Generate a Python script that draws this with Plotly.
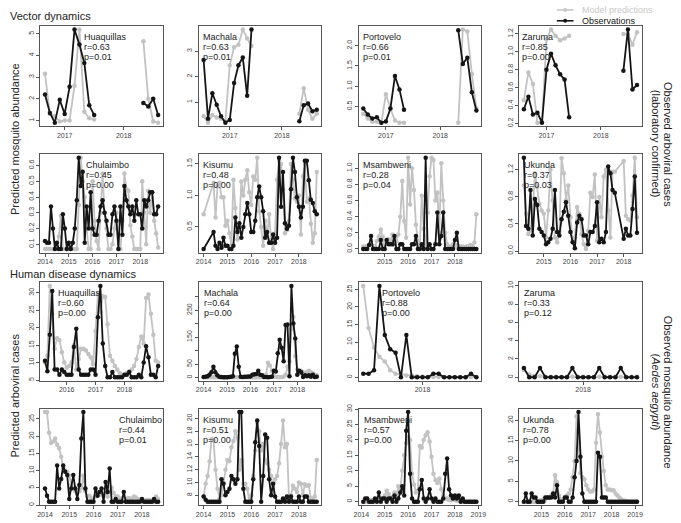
import plotly.graph_objects as go

FONT = "Liberation Sans, Arial, Helvetica, sans-serif"
GREY = "#c2c2c2"
BLACK = "#151515"
W, H = 681, 523
N = None

# ---------------- data ----------------
# Row 1: vector dynamics, Ecuador (monthly, start year/month)
huaq_vec_start = (2016, 9)
huaq_vec_obs = [2.2, 1.35, 0.9, 1.95, 1.3, 2.55, 5.2, 4.5, 3.65, 1.7, 1.25] + [N] * 9 + [1.8, 1.65, 2.0, 1.25]
huaq_vec_pred = [3.15, 1.3, 1.2, 0.95, 1.0, 1.0, 2.6, 5.2, 1.4, 1.1, 1.05] + [N] * 9 + [4.65, 2.0, 0.95, 0.9]

mach_vec_start = (2016, 7)
mach_vec_obs = [2.65, 0.35, 1.35, 0.9, 0.45, 0.2, 0.3, 1.75, 2.45, 2.75, 1.25, 3.85] + [N] * 10 + [0.25, 0.88, 0.95, 0.65, 0.7]
mach_vec_pred = [0.45, 0.2, 0.5, 0.4, 0.35, 0.25, 2.45, 3.15, 3.25, 3.85, 3.5, 3.2] + [N] * 10 + [0.55, 1.55, 0.7, 0.35, 0.55]

port_vec_start = (2016, 8)
port_vec_obs = [0.45, 0.3, 0.2, 0.23, 0.1, 0.13, 0.45, 1.25, 0.92, 0.42] + [N] * 11 + [2.38, 1.55, 1.7, 0.85, 0.4]
port_vec_pred = [0.32, 0.2, 0.12, 0.12, 0.1, 0.8, 0.45, 0.15, 0.1, 0.1] + [N] * 11 + [0.1, 2.4, 2.35, 1.3, 0.45]

zar_vec_start = (2016, 8)
zar_vec_obs = [0.36, 0.5, 0.3, 0.32, 0.21, 0.8, 0.98, 0.85, 0.75, 0.69, 0.27] + [N] * 11 + [0.79, 1.25, 0.58, 0.63]
zar_vec_pred = [0.46, 0.77, 0.64, 0.21, 0.22, 1.14, 1.25, 1.18, 1.13, 1.15, 1.18] + [N] * 11 + [1.2, 1.2, 1.08, 1.22]

# Row 2: vector dynamics, Kenya
chul_vec_start = (2014, 1)
chul_vec_obs = [0.12, 0.11, 0.11, 0.34, 0.2, 0.07, 0.11, 0.07, 0.07, 0.29, 0.2, 0.07,
                0.11, 0.07, 0.11, 0.2, 0.38, 0.65, 0.47, 0.56, 0.11, 0.34, 0.2, 0.43,
                0.2, 0.16, 0.16, 0.25, 0.34, 0.38, 0.3, 0.25, 0.16, 0.16, 0.29, 0.34,
                0.25, 0.07, 0.34, 0.16, 0.47, 0.38, 0.34, 0.29, 0.34, 0.25, 0.38, 0.29,
                0.29, 0.2, 0.38, 0.34, 0.38, 0.43, 0.43, 0.29, 0.29, 0.34]
chul_vec_pred = [0.07, 0.07, 0.07, 0.07, 0.07, 0.07, 0.07, 0.15, 0.28, 0.07, 0.07, 0.07,
                 0.07, 0.07, 0.07, 0.07, 0.07, 0.35, 0.65, 0.5, 0.4, 0.2, 0.07, 0.07,
                 0.5, 0.25, 0.12, 0.07, 0.3, 0.55, 0.3, 0.2, 0.07, 0.07, 0.1, 0.2,
                 0.3, 0.07, 0.07, 0.25, 0.55, 0.45, 0.44, 0.22, 0.15, 0.07, 0.07, 0.07,
                 0.07, 0.5, 0.3, 0.1, 0.44, 0.3, 0.43, 0.25, 0.17, 0.08]

kis_vec_start = (2014, 1)
kis_vec_obs = [0.15, N, N, N, N, 0.42, 0.2, 0.15, 0.25, 0.17, 0.33, 0.2,
               0.2, 0.15, 0.15, 0.2, 0.65, 0.42, 0.56, 0.33, 0.5, 0.7, 0.88, 0.7,
               0.42, 0.42, 0.6, 0.97, 1.14, 0.97, 0.75, 0.33, 0.42, 0.25, 0.25, 0.38,
               0.25, 0.33, 1.6, 0.82, 1.37, 0.56, 0.47, 0.52, 1.1, 1.6, 1.37, 0.97,
               0.82, 0.65, 0.82, 1.55, 1.55, 1.24, 0.93, 0.88, 0.75, 0.7]
kis_vec_pred = [0.7, N, N, N, N, 1.2, 0.65, 1.15, 1.2, 0.97, 0.97, 0.52,
                0.6, 0.4, 0.2, 1.25, 0.8, 0.3, 0.5, 1.22, 1.0, 1.25, 1.4, 1.05,
                0.85, 1.3, 1.25, 1.6, 0.75, 0.5, 0.2, 0.6, 0.35, 0.7, 0.3, 0.15,
                0.4, 1.25, 1.55, 1.5, 1.1, 0.4, 0.45, 0.6, 1.5, 1.25, 0.95, 0.9,
                1.0, 0.38, 1.3, 1.5, 0.9, 0.95, 0.55, 0.25, 0.4, 1.37]

msam_vec_start = (2014, 2)
msam_vec_obs = [0.0, 0.0, 0.0, 0.05, 0.16, 0.0, 0.0, 0.0, 0.0, 0.11, 0.0,
                0.0, 0.11, 0.06, 0.06, 0.06, 0.16, 0.0, 0.0, 0.06, 0.06, 0.0, 0.0,
                0.0, 0.0, 0.06, 0.06, 0.16, 0.0, 0.0, 0.06, 0.0, 1.13, 0.0, 0.06,
                0.0, 0.0, 0.06, 0.45, 0.06, 0.16, 0.45, 0.0, 0.0, 0.0, 0.0, 0.0,
                0.11, 0.2, 0.0, 0.0, 0.0, 0.0, 0.0, 0.0, 0.0, 0.0, 0.0, 0.0]
msam_vec_pred = [0.03, 0.03, 0.03, 0.05, 0.1, 0.03, 0.03, 0.1, 0.15, 0.24, 0.15,
                 0.05, 0.1, 0.12, 0.1, 0.18, 0.05, 0.1, 0.18, 0.4, 0.84, 0.35, 0.14,
                 1.13, 0.55, 1.0, 0.73, 0.3, 0.1, 0.03, 0.66, 0.25, 0.03, 0.45, 0.9,
                 1.13, 1.1, 0.6, 0.7, 0.2, 1.06, 0.6, 0.2, 0.06, 0.03, 0.03, 0.06,
                 0.03, 0.05, 0.03, 0.03, 0.03, 0.02, 0.03, 0.03, 0.05, 0.03, 0.08, 0.43]

ukun_vec_start = (2014, 4)
ukun_vec_obs = [1.38, 0.37, 0.33, 0.9, 0.23, 0.77, 0.68, 0.33, 0.28,
                0.23, 0.1, 0.13, 0.18, 0.33, 0.9, 0.28, 0.23, 0.47, 0.58, 0.72, 0.52,
                0.28, 0.13, 0.04, 0.42, 0.52, 0.47, 0.23, 0.23, 0.1, 0.28, 0.28, 0.37,
                0.72, 0.13, 0.18, 0.13, 0.28, 1.25, 1.15, 0.9, 0.86, N, N, N,
                0.18, 0.33, 0.23, 0.23, 0.62, 1.1, 0.27]
ukun_vec_pred = [0.97, 0.55, 0.25, 0.3, 0.6, 1.15, 0.95, 0.7, 0.6,
                 0.55, 0.2, 0.6, 1.2, 0.75, 0.2, 0.13, 0.28, 1.37, 1.15, 0.75, 0.97,
                 0.5, 0.15, 0.2, 0.65, 0.55, 0.25, 0.1, 0.03, 0.3, 0.86, 0.8, 1.13,
                 0.15, 0.8, 0.5, 1.1, 1.2, 0.6, 0.2, 1.17, 1.17, N, N, N,
                 1.33, 0.52, 0.47, 0.45, 0.82, 1.38, 0.5]

# Row 3: human disease, Ecuador
huaq_dis_start = (2015, 4)
huaq_dis_obs = [10.5, 7.5, 18, 30.5, 8, 8, 6.5, 8, 7.3,
                6.5, 6.5, 6.5, 14.5, 19.7, 8, 6.5, 6.5, 6.5, 6.5, 8, 8,
                6.5, 23, 32, 15.5, 9, 5.8, 5.8, 7.3, 5.8, 5.8, 5.8, 5.8,
                6.5, 6.5, 7.3, 5.8, 5.8, 5.8, 6.5, 5.8, 10, 14.7, 11.5, 6.5,
                6.5, 5.8, 9]
huaq_dis_pred = [10, 12, 32, 24, 14, 17, 16.5, 13, 10,
                 8.5, 9, 10, 15, 8, 11, 14, 14, 13.5, 12.5, 11.5, 9.5,
                 19, 29.5, 24.5, 29, 28.8, 21, 12, 10.5, 9, 8, 7, 6.5,
                 6.5, 7, 7.5, 8, 9, 11, 14.5, 17.5, 15.5, 28.5, 29.5, 24,
                 18, 10.5, 10]

mach_dis_start = (2014, 1)
mach_dis_obs = [2, 3, 5, 10, 20, 40, 20, 8, 3, 2, 1, 1,
                1, 2, 3, 5, 88, 115, 40, 3, 2, 3, 3, 4,
                4, 10, 12, 13, 25, 10, 8, 2, 2, 1, 2, 3,
                25, 22, 90, 140, 110, 60, 195, 197, 5, 340, 200, 145,
                10, 25, 20, 2, 8, 5, 8, 3, 10, 2, 3]
mach_dis_pred = [1, 1, 1, 1, 1, 1, 1, 1, 1, 1, 1, 1,
                 1, 1, 1, 1, 1, 1, 1, 1, 1, 1, 1, 1,
                 1, 1, 1, 1, 1, 1, 1, 2, 10, 55, 45, 25,
                 5, 2, 2, 2, 2, 3, 10, 40, 60, 180, 225, 80,
                 30, 15, 25, 20, 10, 20, 25, 20, 15, 10, 8]

port_dis_start = (2017, 2)
port_dis_obs = [1, 1, 2, 26, 12, 8, 7, 0, 12, 0, 0, 0, 0, 1, 1, 0, 0, 0, 0, 0, 1, 0]
port_dis_pred = [26, 14, 8.5, 5.8, 4.5, 2, 1, 0.8, 0.5, 0.5, 0.3, 0.2, 0.1, 0.1, 0.1, 0.1, 0.1, 0.1, 0.1, 0.1, 0.1, 0.1]

zar_dis_start = (2017, 2)
zar_dis_obs = [1, 0, 0, 1, 0, 0, 0, 0, 0, 1, 0, 0, 0, 0, 1, 0, 0, 0, 1, 0, 0, 0]
zar_dis_pred = [0.8, 0.3, 0.15, 0.1, 0.05, 0.05, 0.05, 0.05, 0.05, 0.05, 0.05, 0.05, 0.05, 0.05, 0.05, 0.05, 0.05, 0.05, 0.05, 0.05, 0.05, 0.05]

# Row 4: human disease, Kenya
chul_dis_start = (2014, 1)
chul_dis_obs = [4.8, 2.7, 1, 1, 1, 1, 11.5, 4.8, 7.6, 11.5, 9.7, 8.7,
                1.8, 4.8, 8.7, 4.8, 1.8, 5.8, 19.3, 27, 4.8, 1, 1, 1,
                1, 4.8, 2.7, 3.8, 4.8, 1, 6.7, 3.8, 10.6, 1, 1, 1.8,
                1, 1, 1, 3.8, 1, 1, 1, 1, 1, 1, 1, 1,
                1.8, 1, 1, 1, 1, 1, 1.8, 1, 1]
chul_dis_pred = [27, 27, 21, 18, 18.5, 19.3, 17.5, 16.5, 14, 11, 10, 9.6,
                 8.5, 6, 5, 4, 3.5, 4, 5, 8.5, 4, 2.5, 2.7, 2,
                 1.8, 2.5, 3.8, 3, 3, 2.5, 3.5, 2.5, 4, 5, 3.5, 2.5,
                 2.5, 1.5, 2, 1.5, 1.5, 2, 2, 1.5, 2.5, 2.2, 1.8, 1.5,
                 1.5, 1.2, 1.5, 1.5, 1.5, 1.2, 1.5, 2.5, 1.8]

kis_dis_start = (2014, 1)
kis_dis_obs = [7.8, 7.3, 7, 7, 7, 7, 7, 7, 7, 10.5, 9.8, 8,
               8.5, 9, 11, 10.5, 9.8, 10.5, 21, 21, 9, 7, 7, 7,
               7, 10.5, 16.3, 19.7, 15.7, 7, 11, 17.5, 17, 10.5, 8, 9.8,
               7.8, 7, 7, 7, 7.5, 7, 7.8, 7, 7.8, 7, 7, 7,
               7.8, 7, 7, 7.8, 7.8, 7, 7, 7, 7, 7]
kis_dis_pred = [7.8, 9.8, 11, 13.3, 16.8, 16.6, 12, 9, 7.5, 8, 10, 12,
                13.5, 13.3, 15.5, 16.5, 18, 17, 12, 13.5, 9.8, 9.8, 9, 7,
                8, 11, 15, 19.3, 18, 15, 16, 13.5, 13, 12, 11, 8.5,
                10.5, 11, 13, 16, 19.7, 15.5, 16, 7.5, 8, 9.5, 9, 8.5,
                10, 9.8, 8, 9.7, 9.5, 9.6, 7.5, 7.5, 7.8, 13.5]

msam_dis_start = (2014, 2)
msam_dis_obs = [0, 1, 1, 0, 0, 0, 1, 0, 3, 0, 1,
                1, 0, 1, 1, 0, 2, 0, 1, 3, 5, 2, 23,
                29, 9, 1, 0, 0, 0, 4, 7, 1, 0, 1, 4,
                1, 0, 1, 0, 0, 0, 1, 9, 14, 4, 2, 1,
                2, 1, 2, 0, 1, 0, 0, 0, 0, 0, 0, 0]
msam_dis_pred = [0, 0, 0, 0.3, 0.5, 0.5, 0.5, 1, 1, 0.5, 1,
                 2, 3.5, 2.5, 1, 1.5, 3, 2, 5, 4, 10, 15, 19,
                 21, 20, 9, 5.5, 3, 3.5, 18, 17.5, 20, 21.5, 22.5, 19.5,
                 14.5, 9, 7, 6, 7.5, 4, 2, 1, 1, 0.5, 0.5, 1.5,
                 0.5, 0.3, 0.2, 0, 0, 0, 0, 0, 0, 0, 0, 0]

ukun_dis_start = (2014, 4)
ukun_dis_obs = [0, 2, 0, 0, 2, 1, 1, 0, 0,
                0, 0, 1, 1, 1, 1, 2, 1, 4, 0, 0, 0,
                1, 1, 0, 0, 1, 6, 10, 22, 11, 2, 0, 0,
                0, 0, 0, 0, 0, 12, 11, 1, 1, 1, 0, 0,
                0, 0, 0, 0, 0, 0, 0, 0, 0, 0, 0, 0,
                0, 0]
ukun_dis_pred = [0, 0, 0, 0, 0, 0, 0, 0, 0.2,
                 0.3, 0.5, 0.5, 1, 1, 1.5, 2, 6.5, 4.8, 1.5, 0.5, 0.5,
                 1, 1.5, 2, 3, 6, 10, 21, 13, 7, 6, 5.5, 4,
                 3, 2.5, 2.5, 3, 14.5, 21.5, 17, 11, 7.5, 4, 3, 3,
                 2.8, 2.8, 2, 1.5, 1, 0.5, 0.3, 0.2, 0.1, 0, 0, 0,
                 0, 0]

# panel labels (site, r, p)
site_names = ["Huaquillas", "Machala", "Portovelo", "Zaruma",
              "Chulaimbo", "Kisumu", "Msambweni", "Ukunda",
              "Huaquillas", "Machala", "Portovelo", "Zaruma",
              "Chulaimbo", "Kisumu", "Msambweni", "Ukunda"]
r_values = ["0.63", "0.63", "0.66", "0.85", "0.45", "0.48", "0.28", "0.37",
            "0.60", "0.64", "0.88", "0.33", "0.44", "0.51", "0.57", "0.78"]
p_values = ["0.01", "0.01", "0.01", "0.00", "0.00", "0.00", "0.04", "0.03",
            "0.00", "0.00", "0.00", "0.12", "0.01", "0.00", "0.00", "0.00"]

# tick values
x_ticks = [[2017, 2018], [2017, 2018], [2017, 2018], [2017, 2018],
           [2014, 2015, 2016, 2017, 2018], [2014, 2015, 2016, 2017, 2018],
           [2015, 2016, 2017, 2018], [2015, 2016, 2017, 2018],
           [2016, 2017, 2018], [2014, 2015, 2016, 2017, 2018], [2018], [2018],
           [2014, 2015, 2016, 2017, 2018], [2014, 2015, 2016, 2017, 2018],
           [2014, 2015, 2016, 2017, 2018, 2019], [2015, 2016, 2017, 2018, 2019]]
y_ticks = [[1, 2, 3, 4, 5], [1, 2, 3], [0.5, 1.0, 1.5, 2.0], [0.2, 0.4, 0.6, 0.8, 1.0, 1.2],
           [0.1, 0.2, 0.3, 0.4, 0.5, 0.6], [0.5, 1.0, 1.5], [0.0, 0.2, 0.4, 0.6, 0.8, 1.0], [0.0, 0.4, 0.8, 1.2],
           [5, 10, 15, 20, 25, 30], [0, 50, 100, 150, 200, 250, 300], [0, 5, 10, 15, 20, 25], [0, 2, 4, 6, 8, 10],
           [0, 5, 10, 15, 20, 25], [8, 10, 12, 14, 16, 18, 20], [0, 5, 10, 15, 20, 25, 30], [0, 5, 10, 15, 20]]
y_tick_text = [["1", "2", "3", "4", "5"], ["1", "2", "3"], ["0.5", "1.0", "1.5", "2.0"],
               ["0.2", "0.4", "0.6", "0.8", "1.0", "1.2"],
               ["0.1", "0.2", "0.3", "0.4", "0.5", "0.6"], ["0.5", "1.0", "1.5"],
               ["0.0", "0.2", "0.4", "0.6", "0.8", "1.0"], ["0.0", "0.4", "0.8", "1.2"],
               ["5", "10", "15", "20", "25", "30"], ["0", "50", "", "150", "", "250", ""],
               ["0", "5", "10", "15", "20", "25"], ["0", "2", "4", "6", "8", "10"],
               ["0", "5", "10", "15", "20", "25"], ["8", "10", "12", "14", "16", "18", "20"],
               ["0", "5", "10", "15", "20", "25", "30"], ["0", "5", "10", "15", "20"]]

series = [
    (huaq_vec_start, huaq_vec_obs, huaq_vec_pred), (mach_vec_start, mach_vec_obs, mach_vec_pred),
    (port_vec_start, port_vec_obs, port_vec_pred), (zar_vec_start, zar_vec_obs, zar_vec_pred),
    (chul_vec_start, chul_vec_obs, chul_vec_pred), (kis_vec_start, kis_vec_obs, kis_vec_pred),
    (msam_vec_start, msam_vec_obs, msam_vec_pred), (ukun_vec_start, ukun_vec_obs, ukun_vec_pred),
    (huaq_dis_start, huaq_dis_obs, huaq_dis_pred), (mach_dis_start, mach_dis_obs, mach_dis_pred),
    (port_dis_start, port_dis_obs, port_dis_pred), (zar_dis_start, zar_dis_obs, zar_dis_pred),
    (chul_dis_start, chul_dis_obs, chul_dis_pred), (kis_dis_start, kis_dis_obs, kis_dis_pred),
    (msam_dis_start, msam_dis_obs, msam_dis_pred), (ukun_dis_start, ukun_dis_obs, ukun_dis_pred),
]

# ---------------- layout helpers ----------------
col_x0 = [36, 197, 359, 522]
row_y0 = [21, 151, 281, 409]
row_h = [102, 100, 100, 98]
PW = 124
label_dx = [42, 2, 2, 1, 44, 2, 2, 3, 16, 3, 21, 3, 77, 2, 3, 2]
connect = [False] * 4 + [True] * 4 + [False] * 4 + [True] * 4
y_fixed = {11: (0, 10)}


def month_x(start, n):
    y0, m0 = start
    return [y0 + (m0 - 1 + i) / 12.0 for i in range(n)]


def padded(lo, hi):
    d = hi - lo
    return [lo - 0.04 * d, hi + 0.04 * d]


fig = go.Figure()
layout = dict(
    width=W, height=H, margin=dict(l=0, r=0, t=0, b=0),
    paper_bgcolor="white", plot_bgcolor="white", showlegend=False, hovermode=False,
    font=dict(family=FONT, color="#222"),
)
annotations = []

for k, (start, obs, pred) in enumerate(series):
    row, col = divmod(k, 4)
    i = k + 1
    xs = month_x(start, len(obs))
    xa = "x" if i == 1 else f"x{i}"
    ya = "y" if i == 1 else f"y{i}"
    for vals, color in ((pred, GREY), (obs, BLACK)):
        fig.add_trace(go.Scatter(
            x=xs, y=vals, xaxis=xa, yaxis=ya, mode="lines+markers",
            line=dict(color=color, width=1.8), marker=dict(color=color, size=4.5),
            connectgaps=connect[k], hoverinfo="skip"))
    xv = [x for x, a, b in zip(xs, obs, pred) if a is not None or b is not None]
    yv = [v for v in obs + pred if v is not None]
    ylo, yhi = y_fixed.get(k, (min(yv), max(yv)))
    x0 = col_x0[col]
    y0 = row_y0[row]
    ph = row_h[row]
    axis_common = dict(showgrid=False, zeroline=False, showline=True, mirror=True,
                       linecolor="#555", linewidth=1, ticks="outside", ticklen=3,
                       tickcolor="#555", tickwidth=1,
                       tickfont=dict(size=7, color="#444", family=FONT))
    layout["xaxis" if i == 1 else f"xaxis{i}"] = dict(
        axis_common, domain=[x0 / W, (x0 + PW) / W], anchor=ya,
        range=padded(min(xv), max(xv)), tickvals=x_ticks[k],
        ticktext=[str(t) for t in x_ticks[k]], ticklabelstandoff=-1)
    layout["yaxis" if i == 1 else f"yaxis{i}"] = dict(
        axis_common, domain=[1 - (y0 + ph) / H, 1 - y0 / H], anchor=xa,
        range=padded(ylo, yhi), tickvals=y_ticks[k], ticktext=y_tick_text[k],
        tickangle=-90)
    lines = [site_names[k], "r=" + r_values[k], "p=" + p_values[k]]
    for j, t in enumerate(lines):
        annotations.append(dict(
            text=t, xref=f"{xa} domain", yref=f"{ya} domain", x=0, y=1,
            xshift=label_dx[k], yshift=-(11 + 10 * j), xanchor="left", yanchor="middle",
            showarrow=False, font=dict(size=9, color="#222", family=FONT)))


def px(xp, yp):
    return xp / W, 1 - yp / H


def text_ann(t, xp, yp, size, angle=0, anchor="left", color="#222"):
    x, y = px(xp, yp)
    annotations.append(dict(text=t, xref="paper", yref="paper", x=x, y=y,
                            xanchor=anchor, yanchor="middle", textangle=angle,
                            showarrow=False, font=dict(size=size, color=color, family=FONT)))


text_ann("Vector dynamics", 3, 11, 11)
text_ann("Human disease dynamics", 3, 273, 11)
text_ann("Predicted mosquito abundance", 10, 136, 11, angle=-90, anchor="center")
text_ann("Predicted arboviral cases", 10, 396, 11, angle=-90, anchor="center")
text_ann("Observed arboviral cases", 673, 141, 11, angle=90, anchor="center")
text_ann("(laboratory confirmed)", 661, 141, 11, angle=90, anchor="center")
text_ann("Observed mosquito abundance", 673, 392, 11, angle=90, anchor="center")
text_ann("(<i>Aedes aegypti</i>)", 661, 392, 11, angle=90, anchor="center")

# legend
shapes = []
for yp, color, label in ((5, "#c8c8c8", "Model predictions"), (16, BLACK, "Observations")):
    xa0, ya0 = px(560, yp)
    xa1, _ = px(577, yp)
    shapes.append(dict(type="line", xref="paper", yref="paper", x0=xa0, x1=xa1, y0=ya0, y1=ya0,
                       line=dict(color=color, width=1.6)))
    cx0, cy0 = px(566.5, yp - 2)
    cx1, cy1 = px(570.5, yp + 2)
    shapes.append(dict(type="circle", xref="paper", yref="paper", x0=cx0, x1=cx1, y0=cy1, y1=cy0,
                       fillcolor=color, line=dict(color=color, width=0)))
    text_ann(label, 584, yp, 9, color=color)

layout["annotations"] = annotations
layout["shapes"] = shapes
fig.update_layout(**layout)
fig.write_html("out.html", config={"displayModeBar": False},
               post_script="document.body.style.margin='0px';document.body.style.overflow='hidden';")
